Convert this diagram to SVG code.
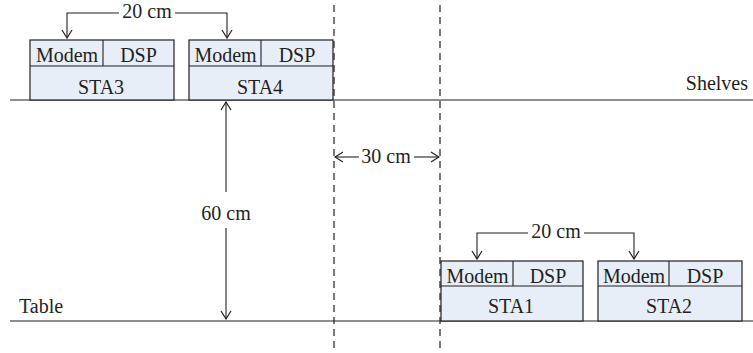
<svg xmlns="http://www.w3.org/2000/svg" width="753" height="353" viewBox="0 0 753 353">
<defs>
<style>
text{font-family:"Liberation Serif",serif;font-size:20px;fill:#231f20}
.box{fill:#e8eef7;stroke:#231f20;stroke-width:1.2}
.ln{stroke:#231f20;stroke-width:1.1;fill:none}
.dash{stroke:#231f20;stroke-width:1.2;stroke-dasharray:7,5;fill:none}
</style>
<marker id="ah" viewBox="0 0 12 12" refX="11" refY="6" markerWidth="12" markerHeight="12" markerUnits="userSpaceOnUse" orient="auto">
<polyline points="3,1 11,6 3,11" fill="none" stroke="#231f20" stroke-width="1.2"/>
</marker>
</defs>
<rect width="753" height="353" fill="#fff"/>
<g id="shelves">
<line class="ln" x1="10" y1="100" x2="753" y2="100"/>
<text x="748" y="90" text-anchor="end">Shelves</text>
</g>
<g id="table">
<line class="ln" x1="10" y1="321" x2="753" y2="321"/>
<text x="19" y="313">Table</text>
</g>
<g id="sta3">
<rect class="box" x="30" y="40" width="144" height="60"/>
<line class="ln" x1="30" y1="66" x2="174" y2="66"/>
<line class="ln" x1="103" y1="40" x2="103" y2="66"/>
<text x="67" y="62" text-anchor="middle">Modem</text>
<text x="138.5" y="62" text-anchor="middle">DSP</text>
<text x="101" y="94" text-anchor="middle">STA3</text>
</g>
<g id="sta4">
<rect class="box" x="189" y="40" width="144" height="60"/>
<line class="ln" x1="189" y1="66" x2="333" y2="66"/>
<line class="ln" x1="261" y1="40" x2="261" y2="66"/>
<text x="225.5" y="62" text-anchor="middle">Modem</text>
<text x="297" y="62" text-anchor="middle">DSP</text>
<text x="260" y="94" text-anchor="middle">STA4</text>
</g>
<g id="sta1">
<rect class="box" x="441" y="261" width="142" height="60"/>
<line class="ln" x1="441" y1="286" x2="583" y2="286"/>
<line class="ln" x1="513" y1="261" x2="513" y2="286"/>
<text x="477.5" y="283" text-anchor="middle">Modem</text>
<text x="548" y="283" text-anchor="middle">DSP</text>
<text x="511" y="313" text-anchor="middle">STA1</text>
</g>
<g id="sta2">
<rect class="box" x="598" y="261" width="144" height="60"/>
<line class="ln" x1="598" y1="286" x2="742" y2="286"/>
<line class="ln" x1="669" y1="261" x2="669" y2="286"/>
<text x="634" y="283" text-anchor="middle">Modem</text>
<text x="705" y="283" text-anchor="middle">DSP</text>
<text x="669" y="313" text-anchor="middle">STA2</text>
</g>
<g id="connectors">
<line class="dash" x1="334" y1="5" x2="334" y2="353"/>
<line class="dash" x1="440" y1="5" x2="440" y2="353"/>
<polyline class="ln" points="119,13 67,13 67,38" marker-end="url(#ah)"/>
<polyline class="ln" points="175,13 227,13 227,38" marker-end="url(#ah)"/>
<text x="147" y="18" text-anchor="middle">20 cm</text>
<polyline class="ln" points="528,233 477,233 477,259" marker-end="url(#ah)"/>
<polyline class="ln" points="584,233 634,233 634,259" marker-end="url(#ah)"/>
<text x="556" y="238" text-anchor="middle">20 cm</text>
<line class="ln" x1="359" y1="157" x2="335" y2="157" marker-end="url(#ah)"/>
<line class="ln" x1="414" y1="157" x2="439" y2="157" marker-end="url(#ah)"/>
<text x="386" y="163" text-anchor="middle">30 cm</text>
<line class="ln" x1="226" y1="192" x2="226" y2="102" marker-end="url(#ah)"/>
<line class="ln" x1="226" y1="228" x2="226" y2="319" marker-end="url(#ah)"/>
<text x="226" y="220" text-anchor="middle">60 cm</text>
</g>
</svg>
